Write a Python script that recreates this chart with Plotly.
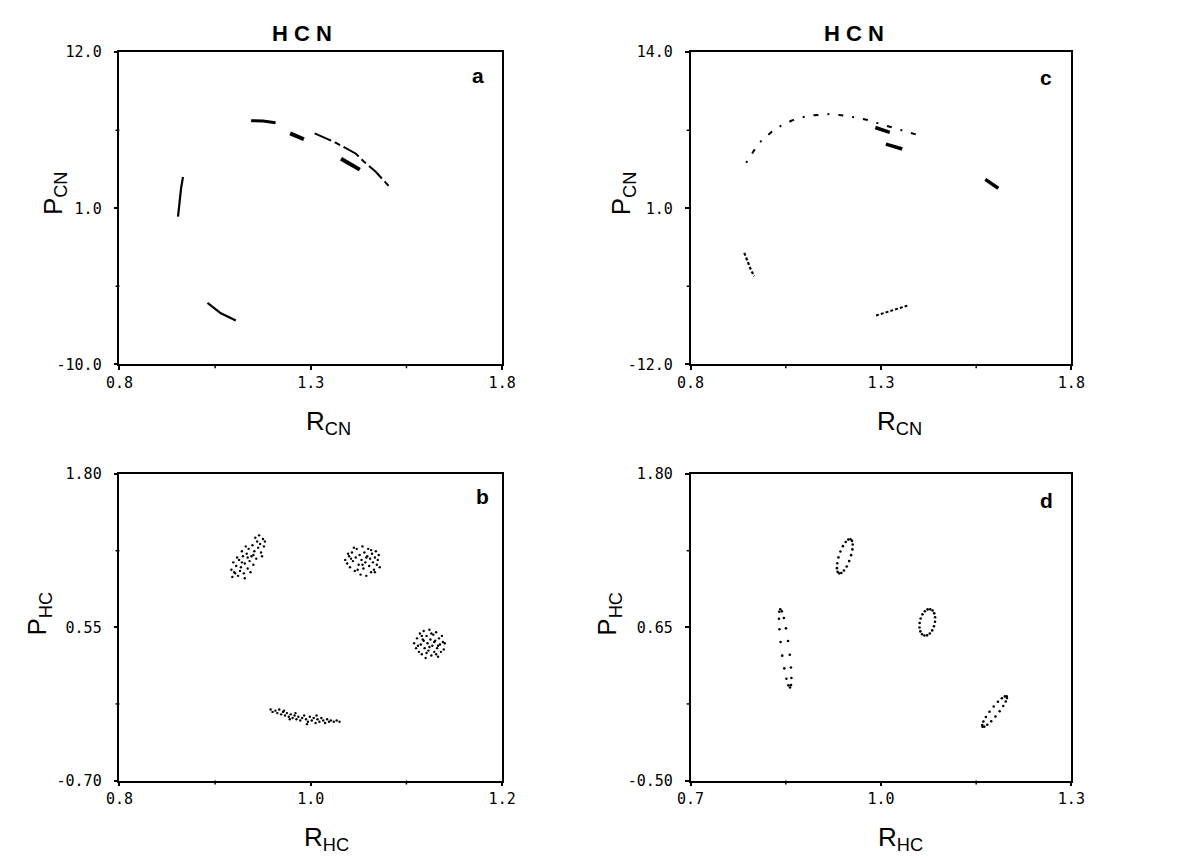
import plotly.graph_objects as go

# ---------------- Panel a: R_CN vs P_CN (arc segments) ----------------
a_seg1_x = [0.953, 0.957, 0.961, 0.966]
a_seg1_y = [0.41, 1.5, 2.4, 3.2]
a_seg2_x = [1.144, 1.175, 1.208]
a_seg2_y = [7.17, 7.15, 7.03]
a_seg3_x = [1.246, 1.264, 1.282]
a_seg3_y = [6.28, 6.10, 5.86]
a_seg4_x = [1.310, 1.366, 1.418, 1.439, 1.469, 1.509]
a_seg4_y = [6.28, 5.60, 4.84, 4.28, 3.59, 2.41]
a_seg5_x = [1.379, 1.404, 1.428]
a_seg5_y = [4.48, 4.10, 3.72]
a_seg6_x = [1.030, 1.065, 1.104]
a_seg6_y = [-5.66, -6.40, -6.90]

# ---------------- Panel c: R_CN vs P_CN (dotted arcs) ----------------
c_arc_x = [0.946, 0.979, 1.023, 1.066, 1.108, 1.169, 1.221, 1.262, 1.300, 1.349, 1.400]
c_arc_y = [4.79, 6.42, 7.64, 8.30, 8.70, 8.86, 8.62, 8.37, 8.00, 7.56, 7.07]
c_seg1_x = [1.285, 1.323]
c_seg1_y = [7.72, 7.32]
c_seg2_x = [1.313, 1.356]
c_seg2_y = [6.34, 5.93]
c_seg3_x = [1.574, 1.608]
c_seg3_y = [3.40, 2.67]
c_seg4_x = [0.941, 0.950, 0.958, 0.967]
c_seg4_y = [-2.71, -3.45, -4.10, -4.67]
c_seg5_x = [1.287, 1.328, 1.369]
c_seg5_y = [-7.93, -7.55, -7.11]

# ---------------- Panel b: R_HC vs P_HC (point clouds) ----------------
b1_x = [0.918, 0.921, 0.917, 0.924, 0.926, 0.922, 0.919, 0.927, 0.930, 0.925,
        0.931, 0.929, 0.934, 0.936, 0.933, 0.928, 0.938, 0.940, 0.935, 0.941,
        0.943, 0.939, 0.945, 0.944, 0.948, 0.947, 0.950, 0.942, 0.951, 0.946,
        0.923, 0.932, 0.937, 0.920, 0.949, 0.928, 0.934, 0.940, 0.931, 0.952]
b1_y = [0.96, 0.99, 1.02, 0.97, 1.01, 1.05, 1.08, 1.04, 0.99, 1.10,
        1.07, 1.13, 1.03, 1.09, 1.15, 1.17, 1.13, 1.06, 1.19, 1.17,
        1.11, 1.22, 1.20, 1.25, 1.16, 1.23, 1.27, 1.28, 1.21, 1.30,
        1.12, 1.21, 1.00, 1.00, 1.13, 1.08, 1.12, 1.14, 0.95, 1.25]
b2_x = [1.036, 1.038, 1.040, 1.041, 1.043, 1.044, 1.046, 1.047, 1.048, 1.050,
        1.051, 1.052, 1.053, 1.054, 1.055, 1.056, 1.057, 1.058, 1.059, 1.060,
        1.061, 1.062, 1.063, 1.064, 1.065, 1.066, 1.067, 1.068, 1.069, 1.070,
        1.071, 1.072, 1.039, 1.045, 1.049, 1.058, 1.054, 1.042, 1.063, 1.067]
b2_y = [1.10, 1.07, 1.13, 1.04, 1.16, 1.09, 1.01, 1.12, 1.19, 1.06,
        1.14, 0.98, 1.10, 1.21, 1.03, 1.16, 1.08, 0.97, 1.13, 1.19,
        1.05, 1.11, 1.00, 1.15, 1.08, 1.02, 1.12, 1.17, 1.06, 1.10,
        1.14, 1.04, 1.15, 1.20, 1.02, 1.12, 1.06, 1.11, 1.18, 1.00]
b3_x = [1.108, 1.110, 1.111, 1.113, 1.114, 1.115, 1.116, 1.117, 1.118, 1.119,
        1.120, 1.121, 1.122, 1.123, 1.124, 1.125, 1.126, 1.127, 1.128, 1.129,
        1.130, 1.131, 1.132, 1.133, 1.134, 1.135, 1.136, 1.137, 1.138, 1.139,
        1.140, 1.112, 1.118, 1.124, 1.129, 1.126, 1.121, 1.133, 1.116, 1.131]
b3_y = [0.42, 0.38, 0.46, 0.35, 0.50, 0.41, 0.33, 0.45, 0.52, 0.38,
        0.30, 0.48, 0.42, 0.36, 0.53, 0.45, 0.32, 0.40, 0.49, 0.35,
        0.44, 0.51, 0.38, 0.31, 0.46, 0.41, 0.35, 0.48, 0.43, 0.37,
        0.42, 0.40, 0.44, 0.39, 0.43, 0.50, 0.34, 0.40, 0.48, 0.33]
b4_x = [0.958, 0.960, 0.963, 0.965, 0.967, 0.969, 0.971, 0.973, 0.975, 0.977,
        0.979, 0.981, 0.983, 0.985, 0.987, 0.989, 0.991, 0.993, 0.995, 0.997,
        0.999, 1.001, 1.003, 1.005, 1.007, 1.009, 1.011, 1.013, 1.015, 1.017,
        1.019, 1.021, 1.024, 1.027, 1.030, 0.972, 0.984, 0.996, 1.006, 0.978]
b4_y = [-0.12, -0.14, -0.13, -0.15, -0.12, -0.16, -0.14, -0.17, -0.15, -0.18,
        -0.16, -0.19, -0.17, -0.20, -0.18, -0.21, -0.19, -0.17, -0.20, -0.22,
        -0.18, -0.21, -0.19, -0.23, -0.20, -0.22, -0.19, -0.21, -0.23, -0.20,
        -0.22, -0.21, -0.22, -0.21, -0.22, -0.13, -0.15, -0.24, -0.17, -0.20]

# ---------------- Panel d: R_HC vs P_HC (dotted rings) ----------------
d1_x = [0.9520, 0.9543, 0.9554, 0.9550, 0.9530, 0.9499, 0.9460, 0.9416, 0.9375,
        0.9340, 0.9316, 0.9306, 0.9311, 0.9330, 0.9361, 0.9400, 0.9444, 0.9485]
d1_y = [1.311, 1.2985, 1.272, 1.2349, 1.1915, 1.1469, 1.1069, 1.076, 1.0579,
        1.055, 1.0675, 1.094, 1.1311, 1.1745, 1.2191, 1.2591, 1.290, 1.3081]
d2_x = [1.0776, 1.0813, 1.0839, 1.0853, 1.0851, 1.0835, 1.0807, 1.0769, 1.0726,
        1.0684, 1.0647, 1.0621, 1.0607, 1.0609, 1.0625, 1.0653, 1.0691, 1.0734]
d2_y = [0.786, 0.7758, 0.7548, 0.7257, 0.6919, 0.6575, 0.6267, 0.6032, 0.5896,
        0.588, 0.5982, 0.6192, 0.6483, 0.6821, 0.7165, 0.7473, 0.7708, 0.7844]
d3_x = [0.8413, 0.8438, 0.8470, 0.8503, 0.8536, 0.8563, 0.8581, 0.8588, 0.8583,
        0.8567, 0.8542, 0.8510, 0.8477, 0.8444, 0.8418, 0.8400, 0.8392, 0.8397]
d3_y = [0.786, 0.7697, 0.7196, 0.6422, 0.5468, 0.4444, 0.3482, 0.2692, 0.2169,
        0.198, 0.2143, 0.2644, 0.3418, 0.4372, 0.5396, 0.6358, 0.7148, 0.7671]
d4_x = [1.1980, 1.1985, 1.1966, 1.1927, 1.1870, 1.1804, 1.1737, 1.1675, 1.1628,
        1.1600, 1.1595, 1.1614, 1.1653, 1.1710, 1.1776, 1.1843, 1.1905, 1.1952]
d4_y = [0.132, 0.1189, 0.0935, 0.0591, 0.0197, -0.0199, -0.0549, -0.0811, -0.0955,
        -0.096, -0.0829, -0.0575, -0.0231, 0.0163, 0.0559, 0.0909, 0.1171, 0.1315]

# ---------------- Axis ticks (labelled + unlabelled intermediate) ----------------
a_xticks = [0.8, 1.3, 1.8]
a_xminor = [1.05, 1.55]
a_yticks = [-10.0, 1.0, 12.0]
a_yminor = [-4.5, 6.5]
c_yticks = [-12.0, 1.0, 14.0]
c_yminor = [-5.5, 7.5]
b_xticks = [0.8, 1.0, 1.2]
b_xminor = [0.9, 1.1]
b_yticks = [-0.70, 0.55, 1.80]
b_yminor = [-0.075, 1.175]
d_xticks = [0.7, 1.0, 1.3]
d_xminor = [0.85, 1.15]
d_yticks = [-0.50, 0.65, 1.80]
d_yminor = [0.075, 1.225]

fig = go.Figure()


def line(x, y, ax, width=2.0, dash="solid"):
    fig.add_trace(go.Scatter(x=x, y=y, mode="lines", xaxis=ax[0], yaxis=ax[1],
                             line=dict(color="black", width=width, dash=dash),
                             showlegend=False, hoverinfo="skip"))


def dots(x, y, ax, size=2.6):
    fig.add_trace(go.Scatter(x=x, y=y, mode="markers", xaxis=ax[0], yaxis=ax[1],
                             marker=dict(color="black", size=size, line=dict(width=0)),
                             showlegend=False, hoverinfo="skip"))


A = ("x", "y")
B = ("x2", "y2")
C = ("x3", "y3")
D = ("x4", "y4")

# panel a
line(a_seg1_x, a_seg1_y, A, 2.2)
line(a_seg2_x, a_seg2_y, A, 3.0)
line(a_seg3_x, a_seg3_y, A, 4.0)
line(a_seg4_x, a_seg4_y, A, 2.0, "18px,4px,6px,4px")
line(a_seg5_x, a_seg5_y, A, 4.0)
line(a_seg6_x, a_seg6_y, A, 2.2)

# panel c
line(c_arc_x, c_arc_y, C, 2.0, "2px,9px,5px,9px")
line(c_seg1_x, c_seg1_y, C, 3.5)
line(c_seg2_x, c_seg2_y, C, 3.5)
line(c_seg3_x, c_seg3_y, C, 3.5)
line(c_seg4_x, c_seg4_y, C, 2.2, "3px,2px")
line(c_seg5_x, c_seg5_y, C, 2.0, "3px,2px")

# panel b
for cx, cy in [(b1_x, b1_y), (b2_x, b2_y), (b3_x, b3_y), (b4_x, b4_y)]:
    dots(cx, cy, B, 2.4)

# panel d
for cx, cy in [(d1_x, d1_y), (d2_x, d2_y), (d3_x, d3_y), (d4_x, d4_y)]:
    dots(cx, cy, D, 2.6)

W, H = 1183, 862
tickfont = dict(family="DejaVu Sans Mono", size=15, color="black")
TICK_LEN = 4


def axis(rng, vals, domain, anchor, is_y):
    ax = dict(range=rng, domain=domain, anchor=anchor,
              tickmode="array", tickvals=vals,
              ticktext=[f"{v:.2f}" if abs(rng[1] - rng[0]) < 5 and is_y else f"{v:.1f}" for v in vals],
              tickfont=tickfont,
              showline=True, linecolor="black", linewidth=1.5, mirror=True,
              ticks="outside", ticklen=TICK_LEN, tickwidth=1.5, tickcolor="black",
              showgrid=False, zeroline=False, fixedrange=True)
    if is_y:
        ax["ticklabelstandoff"] = 9
    return ax


xl = [108 / W, 500 / W]
xr = [693 / W, 1083 / W]
yt = [1 - 363 / H, 1 - 44 / H]
yb = [1 - 788 / H, 1 - 475 / H]

fig.update_layout(
    width=W, height=H,
    margin=dict(l=0, r=0, t=0, b=0),
    paper_bgcolor="white", plot_bgcolor="white",
    xaxis=axis([0.8, 1.8], a_xticks, xl, "y", False),
    yaxis=axis([-10.0, 12.0], a_yticks, yt, "x", True),
    xaxis2=axis([0.8, 1.2], b_xticks, xl, "y2", False),
    yaxis2=axis([-0.70, 1.80], b_yticks, yb, "x2", True),
    xaxis3=axis([0.8, 1.8], a_xticks, xr, "y3", False),
    yaxis3=axis([-12.0, 14.0], c_yticks, yt, "x3", True),
    xaxis4=axis([0.7, 1.3], d_xticks, xr, "y4", False),
    yaxis4=axis([-0.50, 1.80], d_yticks, yb, "x4", True),
)

# unlabelled intermediate ticks, drawn just outside the bottom / left axis lines
panel_w = 392
panel_h = {"y": 319, "y2": 313, "y3": 319, "y4": 313}
tick_style = dict(color="black", width=1.5)
for xname, yname, xminor, yminor in [("x", "y", a_xminor, a_yminor),
                                     ("x2", "y2", b_xminor, b_yminor),
                                     ("x3", "y3", a_xminor, c_yminor),
                                     ("x4", "y4", d_xminor, d_yminor)]:
    for v in xminor:
        fig.add_shape(type="line", xref=xname, yref=f"{yname} domain",
                      x0=v, x1=v, y0=0, y1=-TICK_LEN / panel_h[yname], line=tick_style)
    for v in yminor:
        fig.add_shape(type="line", xref=f"{xname} domain", yref=yname,
                      x0=0, x1=-TICK_LEN / panel_w, y0=v, y1=v, line=tick_style)

label_font = dict(family="Liberation Sans", size=26, color="black")
title_font = dict(family="Liberation Sans", size=22, color="black")
letter_font = dict(family="Liberation Sans", size=21, color="black")
annots = [
    # titles
    dict(x=295, y=25, text="<b>H C N</b>", font=title_font),
    dict(x=860, y=25, text="<b>H C N</b>", font=title_font),
    # panel letters
    dict(x=475, y=68, text="<b>a</b>", font=letter_font),
    dict(x=480, y=498, text="<b>b</b>", font=letter_font),
    dict(x=1057, y=70, text="<b>c</b>", font=letter_font),
    dict(x=1058, y=502, text="<b>d</b>", font=letter_font),
    # axis titles
    dict(x=322, y=422, text="R<sub>CN</sub>", font=label_font),
    dict(x=907, y=422, text="R<sub>CN</sub>", font=label_font),
    dict(x=320, y=847, text="R<sub>HC</sub>", font=label_font),
    dict(x=908, y=847, text="R<sub>HC</sub>", font=label_font),
    dict(x=41, y=188, text="P<sub>CN</sub>", font=label_font, textangle=-90),
    dict(x=623, y=188, text="P<sub>CN</sub>", font=label_font, textangle=-90),
    dict(x=25, y=617, text="P<sub>HC</sub>", font=label_font, textangle=-90),
    dict(x=609, y=618, text="P<sub>HC</sub>", font=label_font, textangle=-90),
]
for an in annots:
    fig.add_annotation(x=an["x"] / W, y=1 - an["y"] / H, xref="paper", yref="paper",
                       text=an["text"], font=an["font"], showarrow=False,
                       xanchor="center", yanchor="middle",
                       textangle=an.get("textangle", 0))

fig.write_html("out.html")
